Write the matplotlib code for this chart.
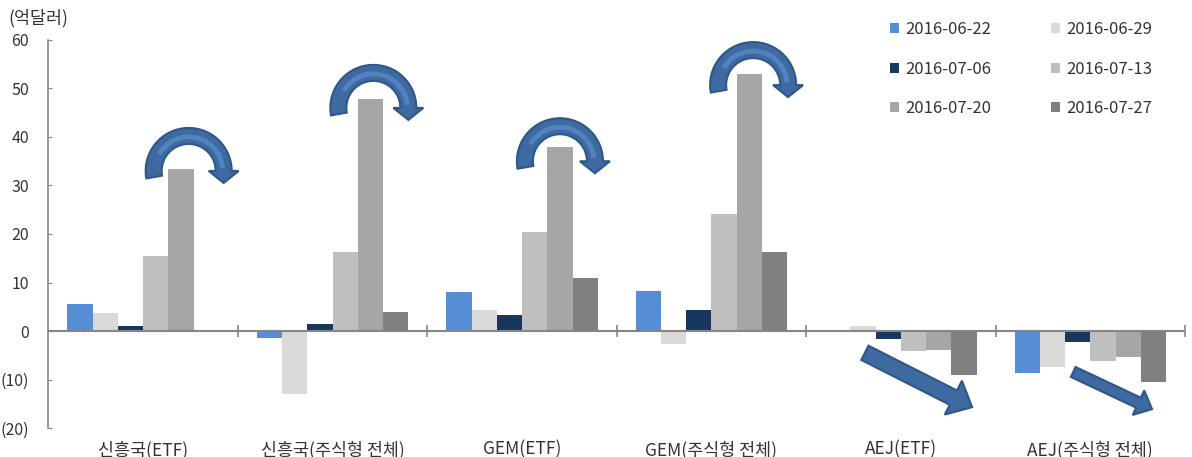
import numpy as np
import matplotlib
matplotlib.use("Agg")
import matplotlib.pyplot as plt
from matplotlib.patches import Polygon, Patch

plt.rcParams['font.family'] = ['Noto Sans CJK KR', 'DejaVu Sans']

categories = ["신흥국(ETF)", "신흥국(주식형 전체)", "GEM(ETF)", "GEM(주식형 전체)",
              "AEJ(ETF)", "AEJ(주식형 전체)"]
series_names = ["2016-06-22", "2016-06-29", "2016-07-06", "2016-07-13",
                "2016-07-20", "2016-07-27"]
s_0622 = [5.6, -1.5, 8.0, 8.2, 0.1, -8.7]
s_0629 = [3.8, -13.0, 4.3, -2.7, 1.1, -7.5]
s_0706 = [1.0, 1.5, 3.3, 4.3, -1.7, -2.3]
s_0713 = [15.5, 16.3, 20.5, 24.2, -4.1, -6.2]
s_0720 = [33.5, 47.8, 38.0, 53.0, -3.9, -5.3]
s_0727 = [0.3, 4.0, 11.0, 16.3, -9.0, -10.6]
series = [s_0622, s_0629, s_0706, s_0713, s_0720, s_0727]
colors = ["#558ED5", "#D9D9D9", "#17375E", "#BFBFBF", "#A6A6A6", "#808080"]

yticks = [60, 50, 40, 30, 20, 10, 0, -10, -20]
ytick_labels = ["60", "50", "40", "30", "20", "10", "0", "(10)", "(20)"]

# decorative arrows (data coordinates)
curved_centers = [(0.24, 33.0), (1.215, 46.0), (2.20, 35.0), (3.22, 50.7)]
straight_arrows = [((3.81, -4.5), (4.376, -15.7), 8, 19, 21),
                   ((4.91, -8.45), (5.326, -16.1), 5.5, 13.5, 15)]

W, H = 1192, 457
fig = plt.figure(figsize=(W / 100, H / 100), dpi=100)
ax = fig.add_axes([48.5 / W, 1 - 428 / H, (1185 - 48.5) / W, (428 - 40) / H])

n = len(series)
bw = 0.8 / n
x = np.arange(len(categories))
for i, (vals, c) in enumerate(zip(series, colors)):
    ax.bar(x - 0.4 + bw * (i + 0.5), vals, width=bw, color=c, label=series_names[i],
           edgecolor='none', zorder=2)

ax.set_xlim(-0.5, len(categories) - 0.5)
ax.set_ylim(-20, 60)
ax.set_yticks(yticks)
ax.set_yticklabels(ytick_labels)
ax.set_xticks(x)
ax.set_xticklabels(categories)
for s in ['top', 'right', 'bottom']:
    ax.spines[s].set_visible(False)
ax.spines['left'].set_color('#868686')
ax.spines['left'].set_linewidth(1.2)
ax.tick_params(axis='y', direction='in', length=3, color='#868686', pad=14,
               labelsize=11.5, labelcolor='#333333')
ax.tick_params(axis='x', length=0, pad=9, labelsize=12.5, labelcolor='#333333')
ax.axhline(0, color='#868686', lw=1.5, zorder=3)
bounds = np.arange(0.5, len(categories), 1.0)
ax.plot(bounds, np.zeros_like(bounds), linestyle='none', marker='|', markersize=8,
        markeredgewidth=1.2, color='#868686', zorder=3)

fig.text(8 / W, 1 - 18 / H, "(억달러)", fontsize=12.5, color='#333333', va='center', ha='left')

# legend
handles = [Patch(facecolor=c, edgecolor='none') for c in colors]
order = [0, 2, 4, 1, 3, 5]
leg = ax.legend([handles[i] for i in order], [series_names[i] for i in order],
                ncol=2, frameon=False, loc='upper left',
                bbox_to_anchor=(890 / W, 1 - 21 / H), bbox_transform=fig.transFigure,
                fontsize=12, handlelength=0.55, handleheight=0.55, handletextpad=0.35,
                labelspacing=1.35, columnspacing=3.6, borderaxespad=0, borderpad=0)
for t in leg.get_texts():
    t.set_color('#333333')

# arrows -- built in pixel space, anchored on data coordinates
inv = ax.transData.inverted()
face = '#3E69A1'
edge = '#2F5788'


def add_curved(cx_d, cy_d):
    cx, cy = ax.transData.transform((cx_d, cy_d))
    rm, t, hw, hl = 35.0, 8.0, 15.0, 12.0
    th = np.radians(np.linspace(190, 0, 60))
    outer = np.c_[cx + (rm + t) * np.cos(th), cy + (rm + t) * np.sin(th)]
    inner = np.c_[cx + (rm - t) * np.cos(th), cy + (rm - t) * np.sin(th)][::-1]
    te = th[-1]
    d = np.array([np.cos(te), np.sin(te)])
    tang = np.array([np.sin(te), -np.cos(te)])
    mid = np.array([cx, cy]) + rm * d
    head = [mid + hw * d, mid + hl * tang, mid - hw * d]
    pts = np.vstack([outer, head, inner])
    ax.add_patch(Polygon(inv.transform(pts), closed=True, facecolor=face, edgecolor=edge,
                         lw=1.5, zorder=5, clip_on=False))
    th2 = np.radians(np.linspace(150, 5, 60))
    hl_pts = np.c_[cx + (rm - 1) * np.cos(th2), cy + (rm - 1) * np.sin(th2)]
    ax.plot(*inv.transform(hl_pts).T, color='#5586C4', lw=3.5, zorder=6,
            solid_capstyle='butt', alpha=0.9)


def add_straight(tail_d, tip_d, w, hw, hl):
    T = ax.transData.transform(tail_d)
    P = ax.transData.transform(tip_d)
    u = (P - T) / np.linalg.norm(P - T)
    nrm = np.array([-u[1], u[0]])
    Hb = P - u * hl
    pts = np.array([T + nrm * w, Hb + nrm * w, Hb + nrm * hw, P, Hb - nrm * hw,
                    Hb - nrm * w, T - nrm * w])
    ax.add_patch(Polygon(inv.transform(pts), closed=True, facecolor=face, edgecolor=edge,
                         lw=1.5, zorder=5, clip_on=False))


for c in curved_centers:
    add_curved(*c)
for a in straight_arrows:
    add_straight(*a)

fig.savefig("out.png", dpi=100)
